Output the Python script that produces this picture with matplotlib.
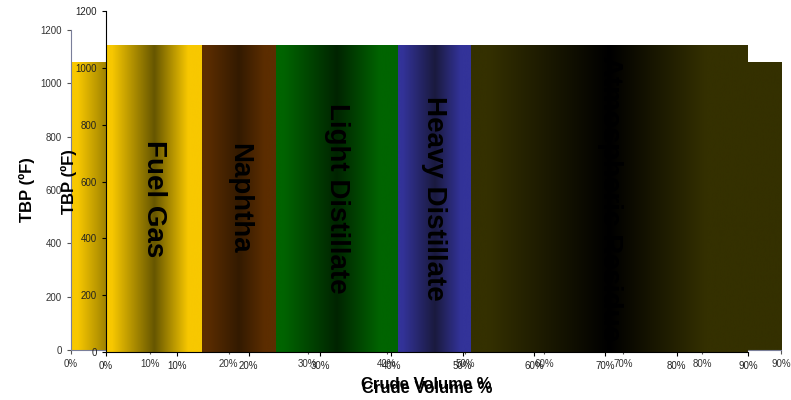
import numpy as np
from matplotlib import pyplot as plt
from matplotlib.colors import LinearSegmentedColormap

plt.rcParams['font.family'] = ['Liberation Sans', 'DejaVu Sans']

# crude cuts: start / end volume %, top TBP
cuts = ['Fuel Gas', 'Naphtha', 'Light Distillate', 'Heavy Distillate', 'Atmospheric Residue']
vol_start = [0, 13.5, 23.8, 40.9, 51.2]
vol_end = [13.5, 23.8, 40.9, 51.2, 90]
tbp_top = [1080, 1080, 1080, 1080, 1080]

edge_colors = ['#f8c800', '#5c2d00', '#006400', '#333399', '#343000']
mid_colors = ['#665600', '#331a00', '#002400', '#1a1a3e', '#000000']

x_ticks = [0, 10, 20, 30, 40, 50, 60, 70, 80, 90]
y_ticks = [0, 200, 400, 600, 800, 1000, 1200]

grad = np.linspace(0, 1, 256)[np.newaxis, :]


def draw_cuts(ax, labels=True):
    for i in range(len(cuts)):
        cmap = LinearSegmentedColormap.from_list(
            'c%d' % i, [(0, edge_colors[i]), (0.06, edge_colors[i]), (0.5, mid_colors[i]),
                        (0.85, edge_colors[i]), (1, edge_colors[i])])
        ax.imshow(grad, extent=[vol_start[i], vol_end[i], 0, tbp_top[i]],
                  aspect='auto', cmap=cmap, interpolation='bicubic', zorder=1)
        if labels:
            ax.text((vol_start[i] + vol_end[i]) / 2, tbp_top[i] / 2, cuts[i],
                    rotation=-90, ha='center', va='center', fontsize=20,
                    fontweight='bold', color='black', zorder=3)
    ax.set_xlim(0, 90)
    ax.set_ylim(0, 1200)
    ax.set_xticks(x_ticks)
    ax.set_xticklabels(['%d%%' % v for v in x_ticks])
    ax.set_yticks(y_ticks)
    ax.spines['top'].set_visible(False)
    ax.spines['right'].set_visible(False)
    ax.tick_params(labelsize=7, length=3, width=0.8, labelcolor='#222222')
    ax.set_xlabel('Crude Volume %', fontsize=12, fontweight='bold')
    ax.set_ylabel('TBP (ºF)', fontsize=12, fontweight='bold')


fig = plt.figure(figsize=(7.91, 4.0), dpi=100)

# back copy of the chart
ax1 = fig.add_axes([71 / 791, 50 / 400, 710 / 791, 320 / 400])
draw_cuts(ax1, labels=False)
for s in ['left', 'bottom']:
    ax1.spines[s].set_color('#7a7f9a')
ax1.tick_params(colors='#555555', labelcolor='#333333')
ax1.xaxis.labelpad = 6
ax1.yaxis.labelpad = 4

# front copy of the chart
ax2 = fig.add_axes([106 / 791, 48 / 400, 642 / 791, 341 / 400])
ax2.patch.set_alpha(0)
draw_cuts(ax2)
ax2.xaxis.labelpad = 7
ax2.yaxis.labelpad = -1

plt.savefig('out.png', dpi=100)
